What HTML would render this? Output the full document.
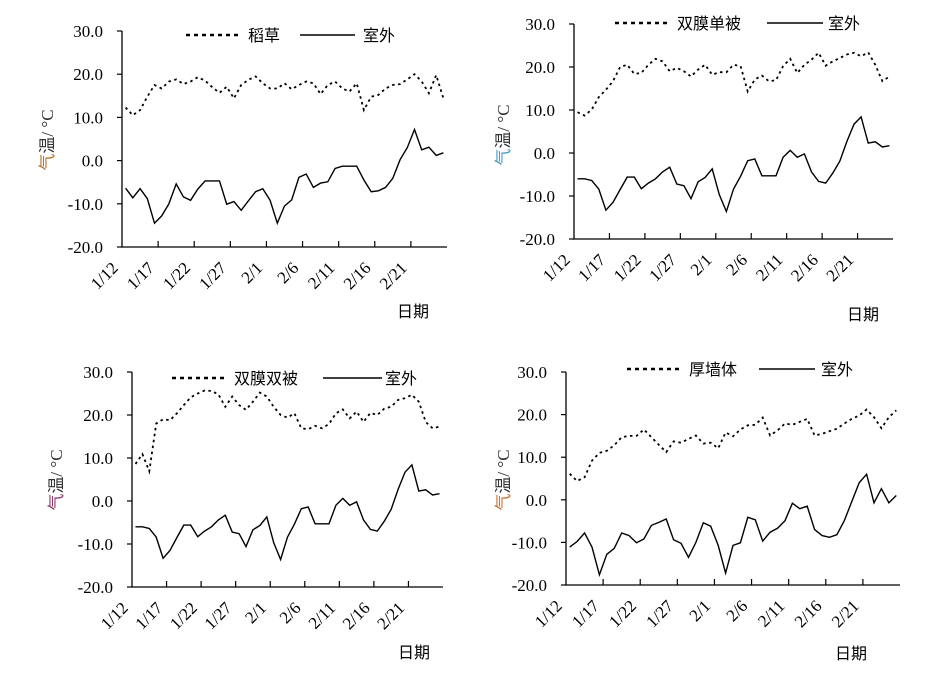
<!DOCTYPE html>
<html><head><meta charset="utf-8"><style>
body{margin:0;background:#fff;}
svg{display:block;font-family:"Liberation Serif","Noto Serif CJK SC",serif;}
.cjk{font-family:"Liberation Serif","Noto Sans CJK SC",sans-serif;}
</style></head><body>
<svg id="chart" width="930" height="675" viewBox="0 0 930 675" xmlns="http://www.w3.org/2000/svg"></svg>
<script>
const categories = ["1/12","1/13","1/14","1/15","1/16","1/17","1/18","1/19","1/20","1/21","1/22","1/23","1/24","1/25","1/26","1/27","1/28","1/29","1/30","1/31","2/1","2/2","2/3","2/4","2/5","2/6","2/7","2/8","2/9","2/10","2/11","2/12","2/13","2/14","2/15","2/16","2/17","2/18","2/19","2/20","2/21","2/22","2/23","2/24","2/25"];
const yTicks = [30,20,10,0,-10,-20];
const tickLabels = ["30.0","20.0","10.0","0.0","-10.0","-20.0"];
const seriesNames = ["稻草","双膜单被","双膜双被","厚墙体"];
const outdoorName = "室外";
const outdoorA = [-6.4,-8.6,-6.5,-8.8,-14.5,-12.8,-10,-5.4,-8.4,-9.2,-6.6,-4.7,-4.7,-4.7,-10.1,-9.5,-11.5,-9.3,-7.2,-6.5,-9.2,-14.5,-10.5,-9.1,-3.9,-3.1,-6.2,-5.2,-4.9,-1.8,-1.3,-1.3,-1.3,-4.5,-7.2,-7,-6.2,-4.1,0.2,3,7.2,2.5,3.1,1.2,1.8];
const strawA = [12.3,10.5,11.7,14.8,17.5,16.7,18.3,18.8,17.7,18.3,19.3,18.5,17,15.7,17.1,14.4,17.5,18.7,19.5,17.9,16.7,16.7,17.9,16.5,17.5,18.3,17.9,15.4,17.5,18.3,16.7,16,17.9,11.7,14.8,15.2,16.7,17.5,17.7,18.8,20,18.3,15.6,19.8,14.4];
const outdoorB = [-6,-6,-6.4,-8.4,-13.3,-11.5,-8.5,-5.6,-5.6,-8.3,-7,-6,-4.4,-3.3,-7.2,-7.6,-10.6,-6.7,-5.7,-3.7,-9.7,-13.6,-8.4,-5.4,-1.8,-1.4,-5.3,-5.3,-5.3,-1,0.6,-1,-0.2,-4.4,-6.6,-7,-4.7,-1.9,2.7,6.7,8.4,2.3,2.6,1.4,1.7];
const singleB = [9.5,8.7,10.1,13,14.7,16.7,20,20.5,18.4,18.6,20.5,21.9,21.3,19,19.8,19,17.8,19.4,20.5,18.2,18.8,18.8,20.5,20.2,14.3,17.1,18,16.7,16.9,20.2,21.9,18.6,20.5,21.7,23.3,20.3,21.3,22.1,22.9,23.3,22.5,23.4,20.5,16.7,17.8];
const outdoorC = [-6,-6,-6.4,-8.4,-13.3,-11.5,-8.5,-5.6,-5.6,-8.3,-7,-6,-4.4,-3.3,-7.2,-7.6,-10.6,-6.7,-5.7,-3.7,-9.7,-13.6,-8.4,-5.4,-1.8,-1.4,-5.3,-5.3,-5.3,-1,0.6,-1,-0.2,-4.4,-6.6,-7,-4.7,-1.9,2.7,6.7,8.4,2.3,2.6,1.4,1.7];
const doubleC = [8.6,10.9,6.9,18,19,18.8,20.4,22.3,24.1,25,25.7,25.6,24.8,21.9,24.3,22.3,21.2,23.1,25.2,24.3,21.9,20,19.4,20.4,16.9,16.7,17.5,16.9,17.9,20.4,21.3,19.2,20.8,18.4,20.5,20,21.5,21.9,23.5,23.9,24.7,23.1,18.4,16.9,17.3];
const outdoorD = [-11.1,-9.8,-7.8,-11.1,-17.6,-12.8,-11.4,-7.8,-8.4,-10.1,-9.2,-6,-5.3,-4.5,-9.4,-10.2,-13.5,-10,-5.4,-6.2,-10.7,-17.2,-10.7,-10.1,-4.1,-4.7,-9.7,-7.6,-6.7,-4.9,-0.8,-2.1,-1.5,-7,-8.4,-8.8,-8.2,-4.9,-0.4,4,6,-0.7,2.6,-0.7,1];
const wallD = [6.1,4.4,5.3,9.2,11,11.5,12.8,14.7,15,15,16.5,14.7,12.9,11.2,13.7,13.4,14.3,15.1,13.2,13.4,12.1,15.8,14.9,16.5,17.5,17.6,19.3,15.1,16.3,17.9,17.6,18.3,19,15.1,15.5,16.1,16.7,17.9,19,19.8,21.2,19.4,16.8,19.4,21];

const NS="http://www.w3.org/2000/svg";
const svg=document.getElementById('chart');
function mk(tag,attrs,parent){const e=document.createElementNS(NS,tag);for(const k in attrs)e.setAttribute(k,attrs[k]);(parent||svg).appendChild(e);return e;}

const panels=[
 {key:'straw',xL:122,xR:447,yT:31,yB:247,lblR:103,title:{x:53,y:140,c:'#b8732c'},
  leg:{y:35,d1:186,d2:240,t1:248,s1:300,s2:355,t2:363},xt:{x:397,y:317},inside:strawA,out:outdoorA,name:seriesNames[0]},
 {key:'single',xL:574,xR:893,yT:24,yB:239,lblR:555,title:{x:509,y:135,c:'#4a9ac8'},
  leg:{y:23,d1:615,d2:670,t1:677,s1:767,s2:823,t2:828},xt:{x:847,y:320},inside:singleB,out:outdoorB,name:seriesNames[1]},
 {key:'double',xL:132,xR:443,yT:372,yB:587,lblR:113,title:{x:62,y:480,c:'#8a3c6a'},
  leg:{y:378,d1:172,d2:227,t1:234,s1:323,s2:382,t2:385},xt:{x:398,y:658},inside:doubleC,out:outdoorC,name:seriesNames[2]},
 {key:'wall',xL:566,xR:900,yT:372,yB:585,lblR:547,title:{x:509,y:480,c:'#d07030'},
  leg:{y:369,d1:627,d2:683,t1:689,s1:759,s2:815,t2:821},xt:{x:835,y:659},inside:wallD,out:outdoorD,name:seriesNames[3]}
];

panels.forEach(p=>{
  const g=mk('g',{});
  
  
  const n=categories.length, w=(p.xR-p.xL)/n;
  const xs=i=>p.xL+(i+0.5)*w;
  const ys=v=>p.yB-(v+20)/50*(p.yB-p.yT);
  const ax=mk('path',{d:`M${p.xL},${p.yT}V${p.yB}H${p.xR}`,fill:'none',stroke:'#000','stroke-width':1.3},g);
  
  
  yTicks.forEach((v,k)=>{
    const y=ys(v);
    const t=mk('line',{x1:p.xL-5,x2:p.xL,y1:y,y2:y,stroke:'#000','stroke-width':1.2},g);
    
    
    const tx=mk('text',{x:p.lblR,y:y+6,'text-anchor':'end','font-size':17},g);
    tx.textContent=tickLabels[k];
    
    
  });
  for(let i=0;i<n;i+=5){
    const x=p.xL+i*w;
    if(i>0){const t=mk('line',{x1:x,x2:x,y1:p.yB-6,y2:p.yB,stroke:'#000','stroke-width':1.2},g);
      
      }
    const lx=x-3, ly=p.yB+22;
    const tx=mk('text',{x:lx,y:ly,'text-anchor':'end','font-size':17,transform:`rotate(-45 ${lx} ${ly})`},g);
    tx.textContent=categories[i];
    
    
  }
  const ptsOut=p.out.map((v,i)=>xs(i).toFixed(1)+','+ys(v).toFixed(1)).join(' ');
  const lo=mk('polyline',{points:ptsOut,fill:'none',stroke:'#000','stroke-width':1.4},g);
  
  
  const ptsIn=p.inside.map((v,i)=>xs(i).toFixed(1)+','+ys(v).toFixed(1)).join(' ');
  const li=mk('polyline',{points:ptsIn,fill:'none',stroke:'#000','stroke-width':1.8,'stroke-dasharray':'2.5 3.5'},g);
  
  
  const L=p.leg;
  const lg=mk('g',{},g);
  
  
  const d=mk('line',{x1:L.d1,x2:L.d2,y1:L.y,y2:L.y,stroke:'#000','stroke-width':2.5,'stroke-dasharray':'4 4'},lg);
  
  
  const t1=mk('text',{x:L.t1,y:L.y+6,'font-size':16,class:'cjk'},lg);
  t1.textContent=p.name;
  
  
  const s=mk('line',{x1:L.s1,x2:L.s2,y1:L.y,y2:L.y,stroke:'#000','stroke-width':1.4},lg);
  
  
  const t2=mk('text',{x:L.t2,y:L.y+6,'font-size':16,class:'cjk'},lg);
  t2.textContent=outdoorName;
  
  
  const T=p.title;
  const yt=mk('text',{x:T.x,y:T.y,'text-anchor':'middle','font-size':17,class:'cjk',transform:`rotate(-90 ${T.x} ${T.y})`,fill:'#333'},g);
  yt.innerHTML=`<tspan fill="${T.c}">气</tspan>温/ °C`;
  
  
  const xt=mk('text',{x:p.xt.x,y:p.xt.y,'font-size':16,class:'cjk'},g);
  xt.textContent='日期';
  
  
});
</script>
</body></html>
